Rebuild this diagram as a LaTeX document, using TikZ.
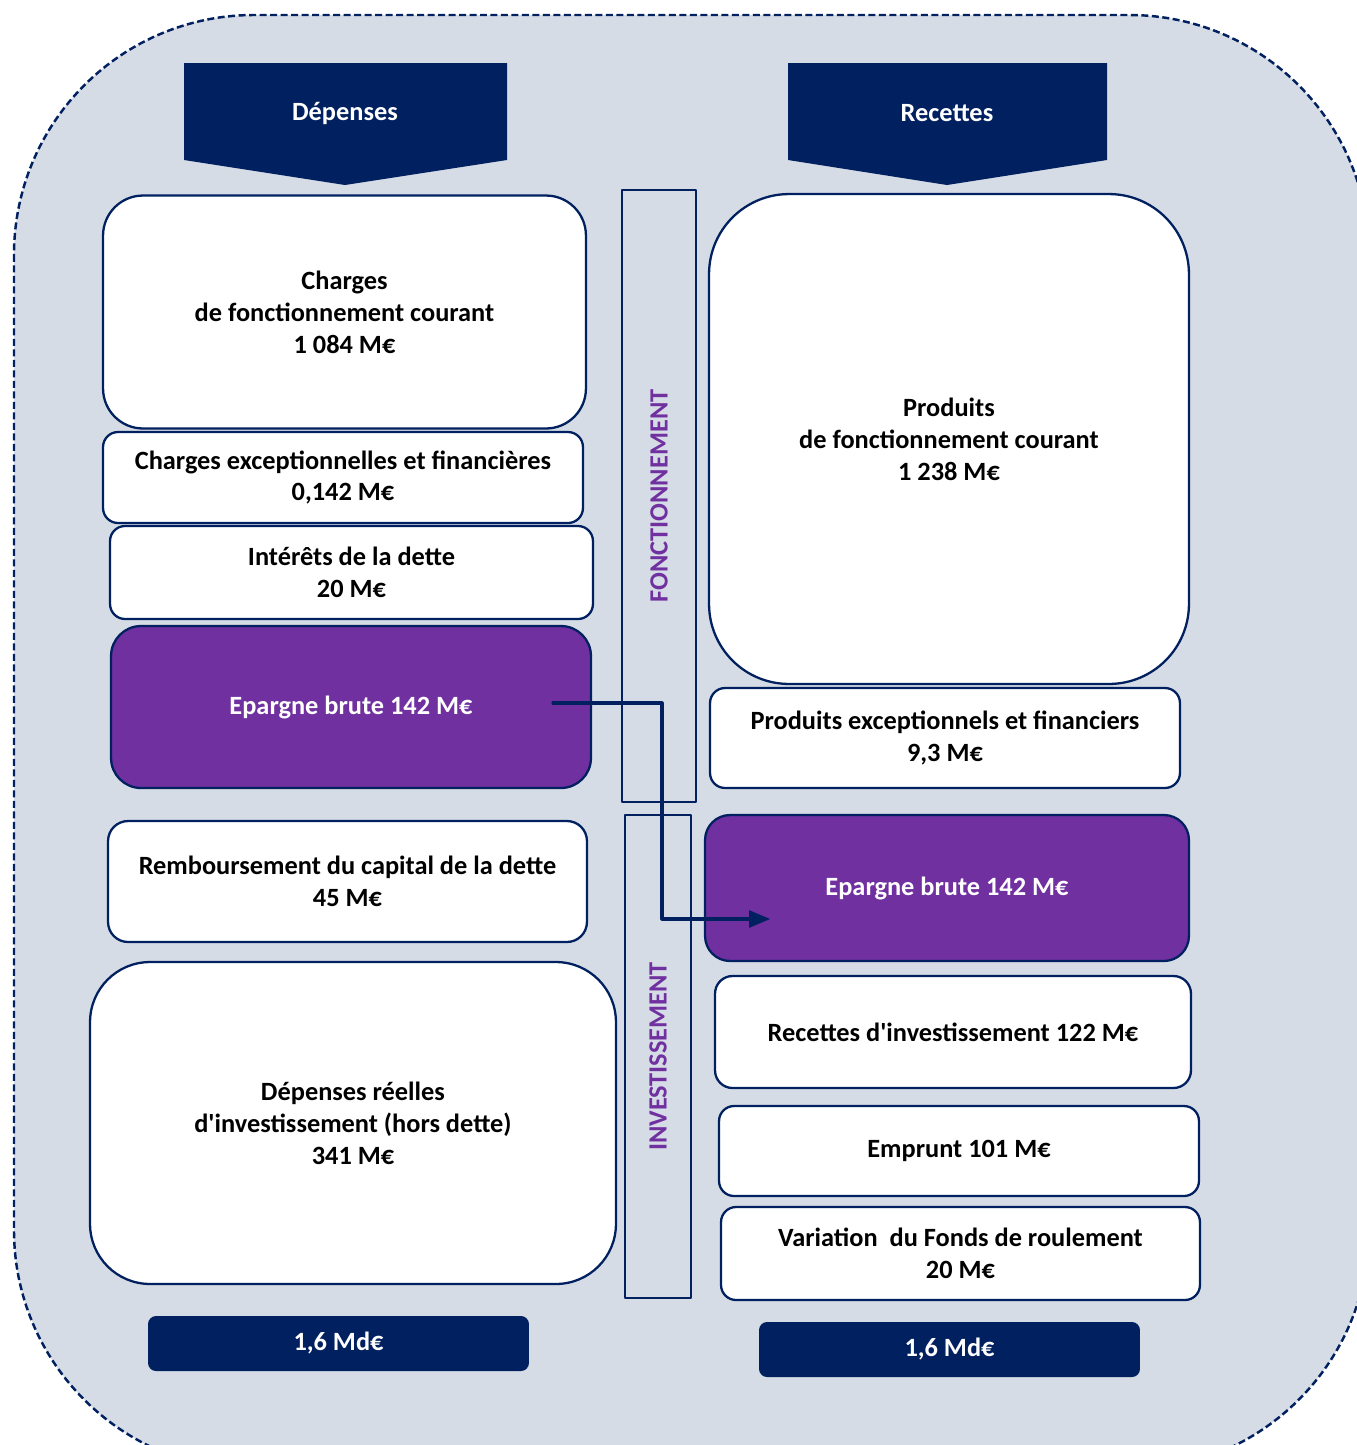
\documentclass[tikz,border=0pt]{standalone}
\usepackage{fontspec}
\setmainfont{Carlito}[Ligatures=TeXOff]
\usetikzlibrary{arrows}
\definecolor{navy}{HTML}{002060}
\definecolor{prune}{HTML}{7030A0}
\definecolor{fond}{HTML}{D6DCE5}
\newcommand{\taille}{\fontsize{15}{18.2}\selectfont}

\tikzset{
  poste/.style={draw=navy, line width=1.3pt, fill=white, align=center, font=\taille\bfseries, inner sep=0pt},
  epargne/.style={poste, fill=prune, text=white},
  total/.style={fill=navy, text=white, font=\taille\bfseries, rounded corners=0.16cm, inner sep=0pt},
  entete/.style={text=white, font=\taille\bfseries},
  section/.style={draw=navy, line width=1.3pt, text=prune, font=\taille\bfseries, rotate=90, inner sep=0pt},
  flux/.style={draw=navy, line width=1.8pt, ->}
}

\begin{document}
\begin{tikzpicture}[line cap=round,line join=round,>=triangle 45,x=0.02cm,y=-0.02cm]
\useasboundingbox (0,0) rectangle (1357,1445);
\begin{scope}
\clip (0,0) rectangle (1357,1445);
\filldraw [fill=fond, draw=navy, line width=1.4pt, line cap=butt, dash pattern=on 0.14cm off 0.07cm, rounded corners=4.8cm] (14,15) rectangle (1369,1470);
\end{scope}
% en-tetes
\fill [navy] (184,63) -- (507,63) -- (507,160) -- (345,185) -- (184,160) -- cycle;
\fill [navy] (788,63) -- (1107,63) -- (1107,160) -- (947,185) -- (788,160) -- cycle;
\node [entete] (dep) at (345,113) {Dépenses};
\node [entete] (rec) at (947,113) {Recettes};
% depenses
\node [poste, rounded corners=0.8cm, minimum width=9.66cm, minimum height=4.66cm] (chfc) at (344.5,312) {Charges\\de fonctionnement courant\\1 084 M€};
\node [poste, rounded corners=0.3cm, minimum width=9.6cm, minimum height=1.82cm] (chex) at (343,477.5) {Charges exceptionnelles et financières\\0,142 M€};
\node [poste, rounded corners=0.3cm, minimum width=9.66cm, minimum height=1.86cm] (interets) at (351.5,572.5) {Intérêts de la dette\\20 M€};
\node [epargne, rounded corners=0.6cm, minimum width=9.6cm, minimum height=3.24cm] (epL) at (351,707) {Epargne brute 142 M€};
\node [poste, rounded corners=0.4cm, minimum width=9.58cm, minimum height=2.42cm] (remb) at (347.5,881.5) {Remboursement du capital de la dette\\45 M€};
\node [poste, rounded corners=1.2cm, minimum width=10.52cm, minimum height=6.44cm] (dri) at (353,1123) {Dépenses réelles\\d'investissement (hors dette)\\341 M€};
\node [total, minimum width=7.62cm, minimum height=1.1cm] (totdep) at (338.5,1343.5) {1,6 Md€};
% sections
\node [section, minimum width=12.24cm, minimum height=1.48cm] (fonct) at (659,496) {FONCTIONNEMENT};
\node [section, minimum width=9.66cm, minimum height=1.32cm] (invest) at (658,1056.5) {INVESTISSEMENT};
% recettes
\node [poste, rounded corners=1.6cm, minimum width=9.6cm, minimum height=9.8cm] (prfc) at (949,439) {Produits\\de fonctionnement courant\\1 238 M€};
\node [poste, rounded corners=0.3cm, minimum width=9.4cm, minimum height=2cm] (prex) at (945,738) {Produits exceptionnels et financiers\\9,3 M€};
\node [epargne, rounded corners=0.5cm, minimum width=9.68cm, minimum height=2.92cm] (epR) at (947,888) {Epargne brute 142 M€};
\node [poste, rounded corners=0.35cm, minimum width=9.52cm, minimum height=2.24cm] (recinv) at (953,1032) {Recettes d'investissement 122 M€};
\node [poste, rounded corners=0.3cm, minimum width=9.6cm, minimum height=1.8cm] (emprunt) at (959,1151) {Emprunt 101 M€};
\node [poste, rounded corners=0.3cm, minimum width=9.58cm, minimum height=1.86cm] (fdr) at (960.5,1253.5) {Variation\ \ du Fonds de roulement\\20 M€};
\node [total, minimum width=7.62cm, minimum height=1.1cm] (totrec) at (949.5,1349.5) {1,6 Md€};
% virement de l'epargne
\coordinate (depart) at (553,703);
\coordinate (coude) at (662,703);
\coordinate (arrivee) at (770,919);
\draw [flux] (depart) -- (coude) |- (arrivee);
\end{tikzpicture}
\end{document}
